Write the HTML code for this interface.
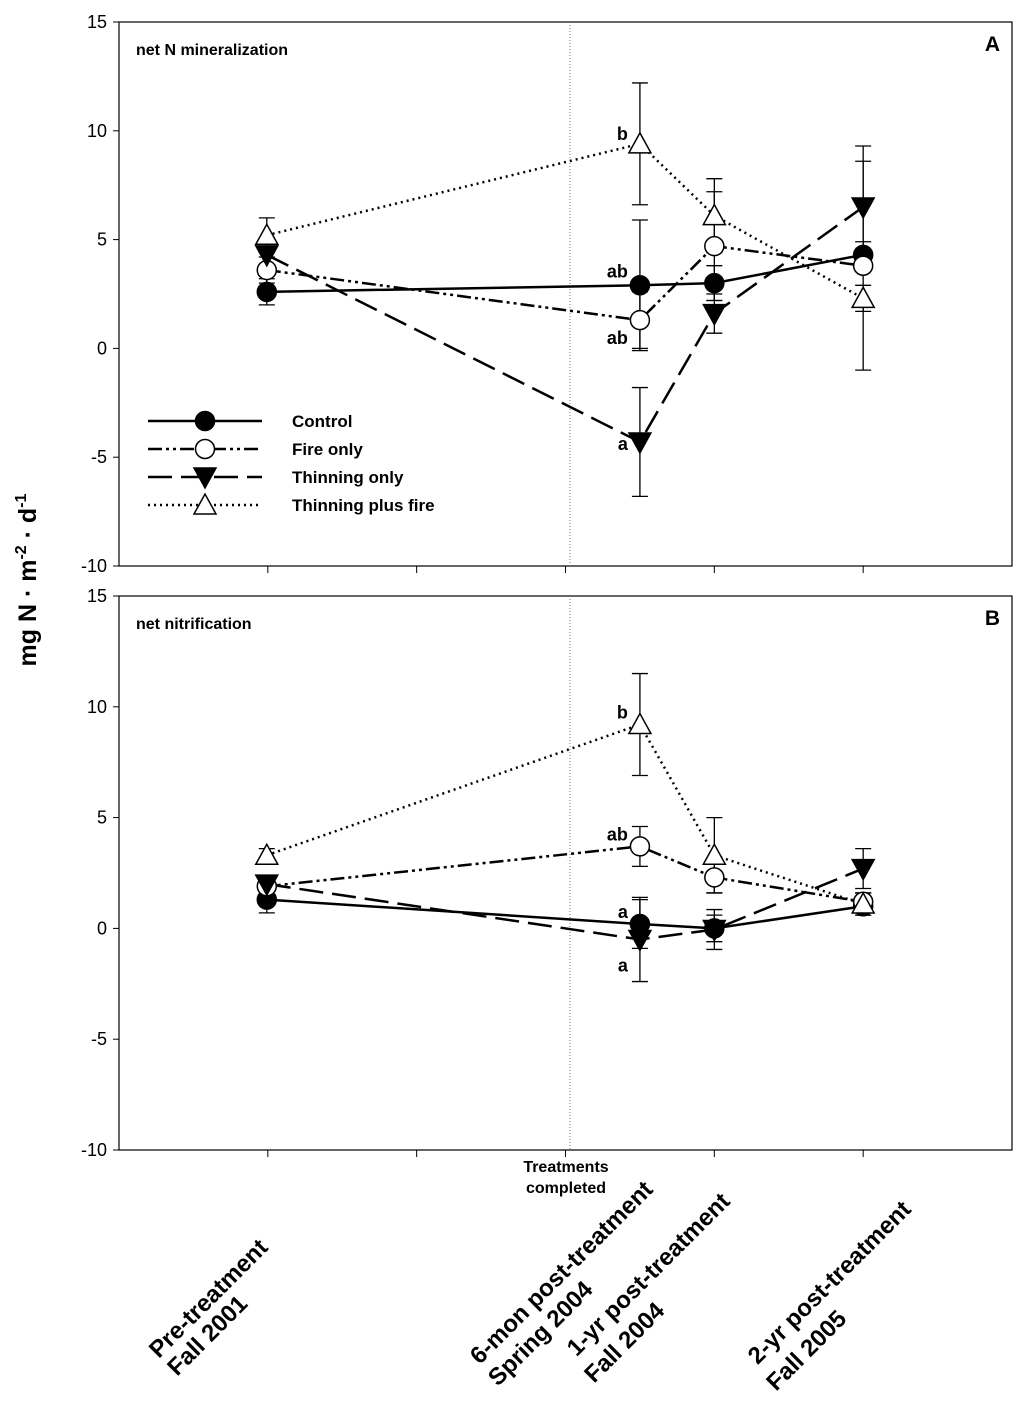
<!DOCTYPE html>
<html><head><meta charset="utf-8"><style>
body{margin:0;background:#fff}
svg{display:block;font-family:"Liberation Sans",Arial,sans-serif}
</style></head><body>
<svg id="chart" width="1024" height="1407"></svg>
<script>
const xPos=[0.993,3.5,4,5];
const seriesNames=["Control","Fire only","Thinning only","Thinning plus fire"];
const aControl=[2.6,2.9,3.0,4.3];
const aControlErr=[0.6,3.0,0.8,0.6];
const aFire=[3.6,1.3,4.7,3.8];
const aFireErr=[0.6,1.3,2.5,4.8];
const aThin=[4.3,-4.3,1.6,6.5];
const aThinErr=[0.5,2.5,0.9,2.8];
const aTF=[5.2,9.4,6.1,2.3];
const aTFErr=[0.8,2.8,1.7,0.6];
const bControl=[1.3,0.2,0.0,1.0];
const bControlErr=[0.6,1.1,0.6,0.4];
const bFire=[1.9,3.7,2.3,1.2];
const bFireErr=[0.4,0.9,0.7,0.4];
const bThin=[2.0,-0.5,-0.05,2.7];
const bThinErr=[0.3,1.9,0.9,0.9];
const bTF=[3.3,9.2,3.3,1.1];
const bTFErr=[0.3,2.3,1.7,0.5];
const yTicks=[-10,-5,0,5,10,15];
const aLetters=[["b",3.5,9.4],["ab",3.5,2.9],["ab",3.5,1.3],["a",3.5,-4.3]];
const aLetterDy=[-4,-8,24,8];
const bLetters=[["b",3.5,9.2],["ab",3.5,3.7],["a",3.5,0.2],["a",3.5,-0.5]];
const bLetterDy=[-6,-6,-6,32];

const NS="http://www.w3.org/2000/svg";
const svg=document.getElementById('chart');
function el(t,a,p){const e=document.createElementNS(NS,t);for(const k in a)e.setAttribute(k,a[k]);(p||svg).appendChild(e);return e;}
const X0=119,X1=1012;
function sx(v){return X0+v*(X1-X0)/6;}
const styles=[
 {dash:"none",fill:"#000",shape:"c"},
 {dash:"14,4,3,4,3,4",fill:"#fff",shape:"c"},
 {dash:"24,9",fill:"#000",shape:"tdown"},
 {dash:"2,4",fill:"#fff",shape:"tup"}];
function marker(g,x,y,s){
  if(s.shape=="c")return el('circle',{cx:x,cy:y,r:9.5,fill:s.fill,stroke:"#000","stroke-width":1.5},g);
  if(s.shape=="tdown")return el('polygon',{points:`${x-11},${y-9} ${x+11},${y-9} ${x},${y+11}`,fill:s.fill,stroke:"#000","stroke-width":1.5},g);
  return el('polygon',{points:`${x-11},${y+9} ${x+11},${y+9} ${x},${y-11}`,fill:s.fill,stroke:"#000","stroke-width":1.5},g);
}
function panel(name,top,bot,series,errs,title,letter,letters,ldy){
  const g=el('g',{});
  
  
  const sy=v=>top+(15-v)*(bot-top)/25;
  el('rect',{x:X0,y:top,width:X1-X0,height:bot-top,fill:"none",stroke:"#000","stroke-width":1.2},g);
  el('line',{x1:sx(3.03),x2:sx(3.03),y1:top,y2:bot,stroke:"#777","stroke-width":1,"stroke-dasharray":"1,2"},g);
  yTicks.forEach(t=>{const y=sy(t);
    el('line',{x1:X0-6,x2:X0,y1:y,y2:y,stroke:"#000"},g);
    const tx=el('text',{x:X0-12,y:y+6,"text-anchor":"end","font-size":18},g);tx.textContent=t;
    
    });
  for(let i=1;i<=5;i++){el('line',{x1:sx(i),x2:sx(i),y1:bot,y2:bot+7,stroke:"#000"},g);}
  const t1=el('text',{x:136,y:top+33,"font-size":16,"font-weight":"bold"},g);t1.textContent=title;
  
  
  const t2=el('text',{x:X1-12,y:top+29,"font-size":21,"font-weight":"bold","text-anchor":"end"},g);t2.textContent=letter;
  
  
  series.forEach((s,k)=>{
    const st=styles[k];
    const pts=s.map((v,i)=>sx(xPos[i])+","+sy(v)).join(" ");
    const pl=el('polyline',{points:pts,fill:"none",stroke:"#000","stroke-width":2.5,"stroke-dasharray":st.dash},g);
    
    
  });
  series.forEach((s,k)=>{
    s.forEach((v,i)=>{const x=sx(xPos[i]),e=errs[k][i];
      el('line',{x1:x,x2:x,y1:sy(v+e),y2:sy(v-e),stroke:"#000","stroke-width":1.3},g);
      el('line',{x1:x-8,x2:x+8,y1:sy(v+e),y2:sy(v+e),stroke:"#000","stroke-width":1.3},g);
      el('line',{x1:x-8,x2:x+8,y1:sy(v-e),y2:sy(v-e),stroke:"#000","stroke-width":1.3},g);
    });
  });
  series.forEach((s,k)=>{s.forEach((v,i)=>{const m=marker(g,sx(xPos[i]),sy(v),styles[k]);
    
    });});
  letters.forEach((l,j)=>{
    const t=el('text',{x:sx(l[1])-12,y:sy(l[2])+ldy[j],"font-size":18,"font-weight":"bold","text-anchor":"end"},g);t.textContent=l[0];
    
    });
  return sy;
}
panel('panel-a',22,566,[aControl,aFire,aThin,aTF],[aControlErr,aFireErr,aThinErr,aTFErr],"net N mineralization","A",aLetters,aLetterDy);
panel('panel-b',596,1150,[bControl,bFire,bThin,bTF],[bControlErr,bFireErr,bThinErr,bTFErr],"net nitrification","B",bLetters,bLetterDy);
// legend
const lg=el('g',{});


seriesNames.forEach((n,k)=>{const y=421+k*28;
  el('line',{x1:148,x2:262,y1:y,y2:y,stroke:"#000","stroke-width":2.5,"stroke-dasharray":styles[k].dash},lg);
  marker(lg,205,y,styles[k]);
  const t=el('text',{x:292,y:y+6,"font-size":17,"font-weight":"bold"},lg);t.textContent=n;
  
  });
// y label
const yl=el('text',{transform:"translate(36,580) rotate(-90)","text-anchor":"middle","font-size":25,"font-weight":"bold"});
yl.innerHTML='mg N · m<tspan dy="-10" font-size="16">-2</tspan><tspan dy="10"> · d</tspan><tspan dy="-10" font-size="16">-1</tspan>';


const tc=el('text',{x:566,y:1172,"text-anchor":"middle","font-size":16,"font-weight":"bold"});
tc.innerHTML='<tspan x="566">Treatments</tspan><tspan x="566" dy="21">completed</tspan>';


const xl=[["Pre-treatment",214,1304],["Fall 2001",213,1341],["6-mon post-treatment",567,1278],["Spring 2004",546,1339],["1-yr post-treatment",654,1280],["Fall 2004",630,1348],["2-yr post-treatment",835,1288],["Fall 2005",812,1356]];
xl.forEach(l=>{const t=el('text',{transform:`translate(${l[1]},${l[2]}) rotate(-45)`,"text-anchor":"middle","font-size":24,"font-weight":"bold"});
  t.textContent=l[0];
  
  });
</script>
</body></html>
